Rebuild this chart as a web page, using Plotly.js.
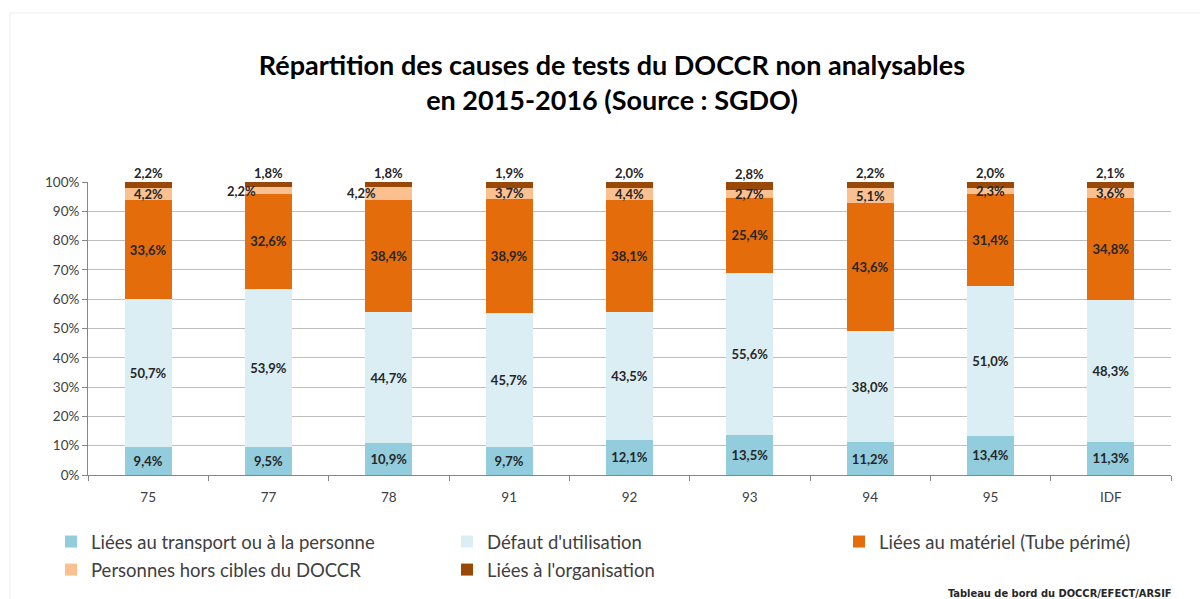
<!DOCTYPE html>
<html>
<head>
<meta charset="utf-8">
<script src="https://cdn.plot.ly/plotly-3.0.1.min.js"></script>
<style>html,body{margin:0;padding:0;background:#fff;}#chart{width:1200px;height:599px;}</style>
</head>
<body>
<div id="chart"></div>
<script>
const categories = ["75", "77", "78", "91", "92", "93", "94", "95", "IDF"];
const transport = [9.4, 9.5, 10.9, 9.7, 12.1, 13.5, 11.2, 13.4, 11.3];
const defaut = [50.7, 53.9, 44.7, 45.7, 43.5, 55.6, 38.0, 51.0, 48.3];
const materiel = [33.6, 32.6, 38.4, 38.9, 38.1, 25.4, 43.6, 31.4, 34.8];
const horsCibles = [4.2, 2.2, 4.2, 3.7, 4.4, 2.7, 5.1, 2.3, 3.6];
const organisation = [2.2, 1.8, 1.8, 1.9, 2.0, 2.8, 2.2, 2.0, 2.1];
const seriesNames = [
  "Liées au transport ou à la personne",
  "Défaut d'utilisation",
  "Liées au matériel (Tube périmé)",
  "Personnes hors cibles du DOCCR",
  "Liées à l'organisation"
];
const yTicks = [0, 10, 20, 30, 40, 50, 60, 70, 80, 90, 100];

const colors = ["#93CDDD", "#DBEEF4", "#E46C0A", "#FAC090", "#984807"];
const legendOf = ["legend", "legend2", "legend3", "legend", "legend2"];
const labelFont = {family: "Lato, 'Liberation Sans', sans-serif", size: 13, color: "#262626", weight: "bold"};
const fmt = v => v.toFixed(1).replace(".", ",") + "%";

function bar(idx, vals, textOn) {
  return {
    type: "bar", name: seriesNames[idx], x: categories, y: vals,
    legend: legendOf[idx], legendgroup: "g" + idx,
    marker: {color: colors[idx], line: {width: 0}},
    text: textOn ? vals.map(fmt) : undefined,
    textposition: textOn ? "inside" : "none",
    insidetextanchor: "middle",
    textangle: 0,
    textfont: labelFont,
    insidetextfont: labelFont,
    cliponaxis: false,
    hoverinfo: "name+y"
  };
}

const data = [
  bar(0, transport, true),
  bar(1, defaut, true),
  bar(2, materiel, true),
  bar(3, horsCibles, false),
  bar(4, organisation, false)
];

// labels of the small "hors cibles" segments (shifted left where the source does)
const shiftLeft = {"77": -27, "78": -27};
const annotations = categories.map((c, i) => ({
  x: i, xref: "x", yref: "y",
  y: transport[i] + defaut[i] + materiel[i] + horsCibles[i] / 2,
  text: fmt(horsCibles[i]), showarrow: false,
  xshift: shiftLeft[c] || 0,
  font: labelFont
}));
// labels of the "organisation" segments, drawn just above the bars
categories.forEach((c, i) => annotations.push({
  x: i, xref: "x", yref: "y", yanchor: "middle",
  y: transport[i] + defaut[i] + materiel[i] + horsCibles[i] + organisation[i] / 2,
  text: fmt(organisation[i]), showarrow: false, yshift: 12,
  font: labelFont
}));
annotations.push({
  xref: "paper", yref: "paper", x: 1.003, y: -(593 - 475) / 293, xanchor: "right", yanchor: "middle",
  text: "<b>Tableau de bord du DOCCR/EFECT/ARSIF</b>", showarrow: false,
  font: {family: "'DejaVu Sans Condensed', 'DejaVu Sans', sans-serif", size: 11, color: "#262626"}
});

const legendBase = {
  orientation: "v", y: -(523 - 475) / 293, yanchor: "top", xanchor: "left",
  font: {size: 18.5, color: "#404040"}, traceorder: "grouped", tracegroupgap: 1,
  itemwidth: 30, bgcolor: "rgba(0,0,0,0)"
};

const layout = {
  width: 1200, height: 599,
  paper_bgcolor: "#ffffff", plot_bgcolor: "#ffffff",
  margin: {l: 88, r: 29, t: 182, b: 124, autoexpand: false},
  barmode: "stack", bargap: 0.61,
  separators: ", ",
  uniformtext: {mode: "show", minsize: 13},
  title: {
    text: "Répartition des causes de tests du DOCCR non analysables<br>en 2015-2016 (Source : SGDO)",
    font: {family: "Lato, 'Liberation Sans', sans-serif", size: 27, color: "#000000", weight: "bold"},
    xref: "container", x: 0.51, xanchor: "center",
    yref: "container", y: 1 - 75 / 599, yanchor: "middle"
  },
  font: {family: "Lato, 'Liberation Sans', sans-serif", color: "#404040"},
  xaxis: {
    type: "category", range: [-0.5, 8.5], showline: true, linecolor: "#868686", linewidth: 1,
    ticks: "outside", tickson: "boundaries", ticklen: 5, tickcolor: "#868686",
    ticklabelstandoff: 10,
    tickfont: {size: 13.5, color: "#404040"}, showgrid: false, zeroline: false
  },
  yaxis: {
    range: [0, 100], tickvals: yTicks, ticktext: yTicks.map(v => v + "%"),
    showline: true, linecolor: "#868686", linewidth: 1,
    ticks: "outside", ticklen: 5, tickcolor: "#868686",
    showgrid: true, gridcolor: "#BFBFBF", gridwidth: 1, zeroline: false,
    tickfont: {size: 13.5, color: "#404040"}
  },
  legend: Object.assign({}, legendBase, {x: (51 - 88) / 1083}),
  legend2: Object.assign({}, legendBase, {x: (447 - 88) / 1083}),
  legend3: Object.assign({}, legendBase, {x: (839 - 88) / 1083}),
  annotations: annotations,
  shapes: [{
    type: "rect", xref: "paper", yref: "paper",
    x0: (10 - 88) / 1083, x1: (1215 - 88) / 1083,
    y0: (475 - 620) / 293, y1: (475 - 13) / 293,
    line: {color: "#EDEDED", width: 1}, fillcolor: "rgba(0,0,0,0)", layer: "below"
  }],
  showlegend: true
};

Plotly.newPlot("chart", data, layout, {displayModeBar: false, staticPlot: true});
</script>
</body>
</html>
